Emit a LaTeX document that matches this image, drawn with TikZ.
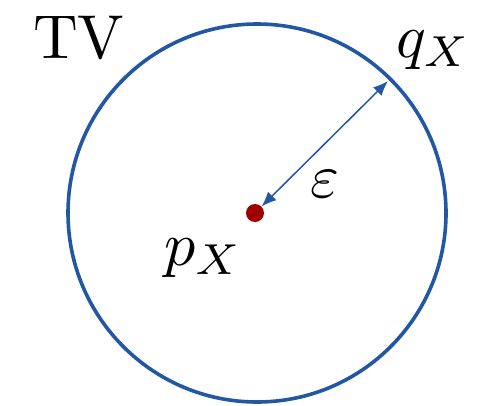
\documentclass[tikz,border=0pt]{standalone}
\usepackage{graphicx}
\usetikzlibrary{arrows.meta}
\definecolor{ringblue}{RGB}{33,87,163}
\definecolor{dotred}{RGB}{160,0,0}
\newcommand{\bigtxt}[1]{\scalebox{6.2}{#1}}
\tikzset{
  lbl/.style={inner sep=0pt, outer sep=0pt, anchor=base west, font=\fontsize{10}{12}\selectfont},
  ring/.style={draw=ringblue, line width=3.6pt},
  pdot/.style={circle, fill=dotred, inner sep=0pt, minimum size=18pt},
  radius arrow/.style={draw=ringblue, line width=1.5pt, {Latex[length=15pt,width=12pt]}-{Latex[length=15pt,width=12pt]}}
}
\begin{document}
\begin{tikzpicture}[x=1pt,y=-1pt]
\useasboundingbox (0,0) rectangle (477,405);
\node[pdot] (p) at (255,213) {};
\draw[ring] (257,213) circle (189pt);
\coordinate (q) at (388,81);
\draw[radius arrow] (p) -- (q);
\node[lbl] (tv) at (33,58) {\bigtxt{TV}};
\node[lbl] (qx) at (396,57) {\bigtxt{$q_X$}};
\node[lbl] (px) at (164,265) {\bigtxt{$p_X$}};
\node[lbl] (eps) at (310,197) {\bigtxt{$\varepsilon$}};
\end{tikzpicture}
\end{document}
